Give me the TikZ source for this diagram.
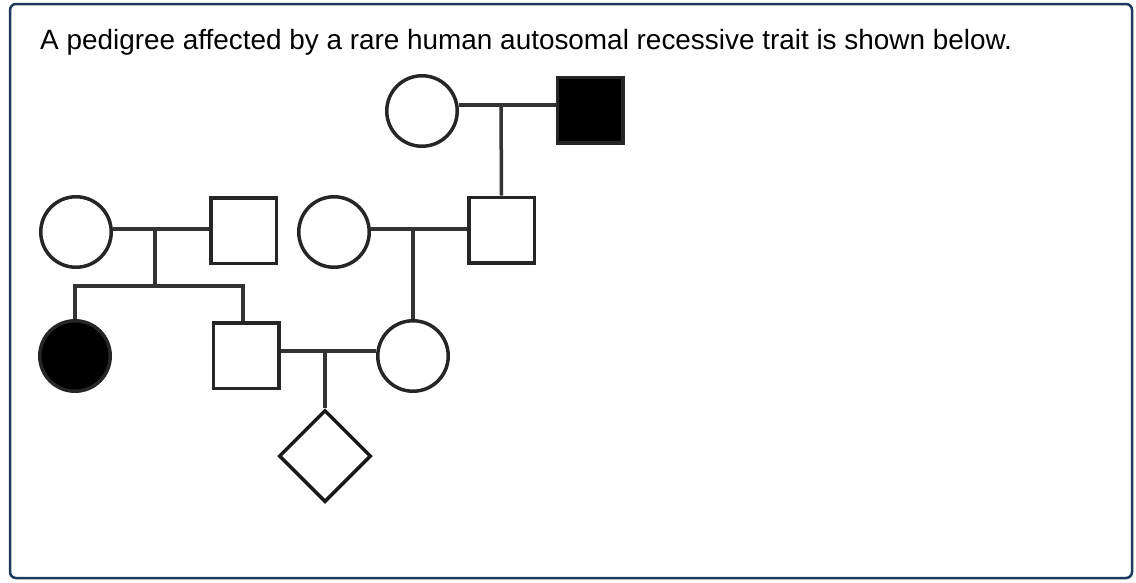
\documentclass[tikz,border=0pt]{standalone}
\usepackage{fontspec}
\setmainfont{Liberation Sans}
\usetikzlibrary{shapes.geometric}
\definecolor{frame}{HTML}{1B3A60}
\begin{document}
\begin{tikzpicture}[x=1pt,y=-1pt]
    \tikzstyle{f}=[circle, draw=black!85, line width=3.5pt, minimum size=70.5pt, inner sep=0pt]
    \tikzstyle{m}=[rectangle, draw=black!85, line width=3.5pt, minimum size=65.5pt, inner sep=0pt]
    \tikzstyle{u}=[diamond, draw=black!90, line width=3.5pt, minimum width=92pt, minimum height=92pt, inner sep=0pt]
    \tikzstyle{aff}=[fill=black]
    \tikzstyle{ln}=[draw=black!80, line width=3.5pt]
    \useasboundingbox (0,0) rectangle (1136,582);
    \draw[frame, line width=2.5pt, rounded corners=6pt] (10,4) rectangle (1132,578);
    \node[anchor=base west, inner sep=0pt, font=\fontsize{27.9}{32}\selectfont] (title) at (40,49)
      {A pedigree affected by a rare human autosomal recessive trait is shown below.};
    % generation I
    \node[f] (I1) at (422,111) {};
    \node[m, aff] (I2) at (590,110) {};
    \coordinate (m1) at (501,105);
    % generation II
    \node[f] (II1) at (76,232) {};
    \node[m] (II2) at (243.5,230.5) {};
    \node[f] (II3) at (334,232) {};
    \node[m] (II4) at (501.5,230) {};
    \coordinate (m2) at (155,229);
    \coordinate (m3) at (413,229);
    % generation III
    \node[f, aff] (III1) at (75,356) {};
    \node[m] (III2) at (246,355.5) {};
    \node[f] (III3) at (413,356) {};
    \coordinate (m4) at (325,351);
    \coordinate (s1) at (75,286);
    \coordinate (s2) at (243,286);
    % generation IV
    \node[u] (IV1) at (325,456) {};
    % marriages
    \path[ln] (I1.east |- m1) -- (I2.west |- m1);
    \path[ln] (II1.east |- m2) -- (II2.west |- m2);
    \path[ln] (II3.east |- m3) -- (II4.west |- m3);
    \path[ln] (III2.east |- m4) -- (III3.west |- m4);
    % descent
    \path[ln] (m1) -- (II4.north);
    \path[ln] (m2) -- (m2 |- s1);
    \path[ln, line cap=rect] (s1) -- (s2);
    \path[ln] (s1) -- (III1.north);
    \path[ln] (s2) -- (s2 |- III2.north);
    \path[ln] (m3) -- (III3.north);
    \path[ln] (m4) -- (IV1.north);
  \end{tikzpicture}
\end{document}
